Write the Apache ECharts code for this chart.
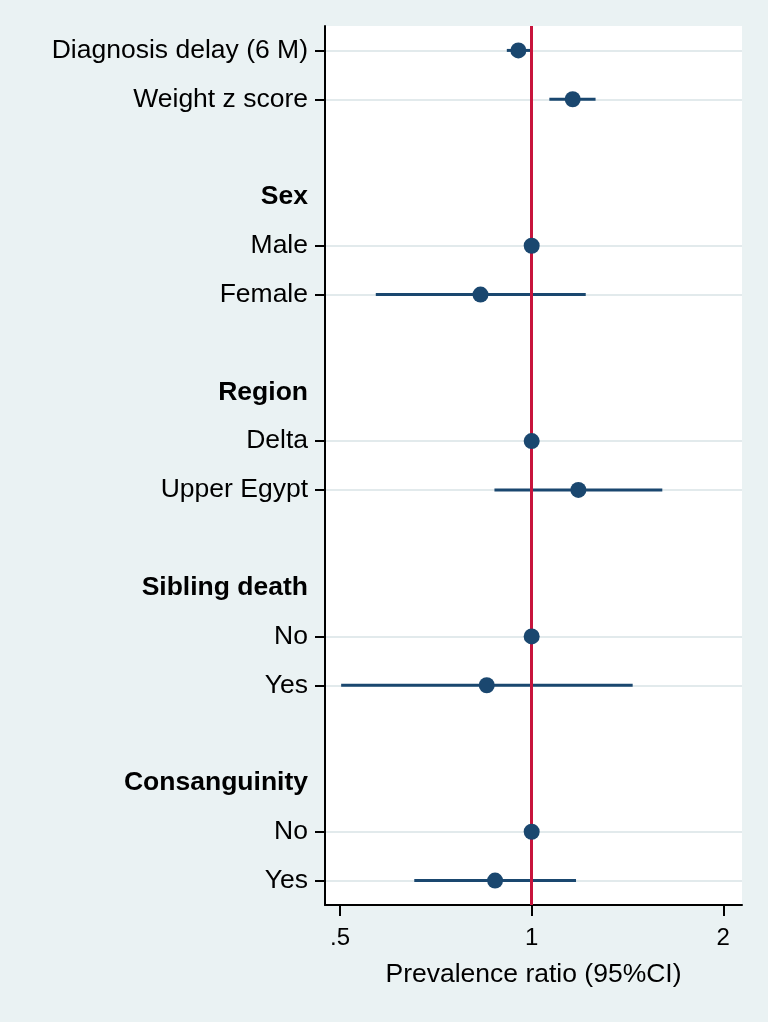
<!DOCTYPE html>
<html>
<head>
<meta charset="utf-8">
<script src="https://cdn.jsdelivr.net/npm/echarts@6/dist/echarts.min.js"></script>
<style>
html,body{margin:0;padding:0;background:#eaf2f3;}
#chart{width:768px;height:1022px;}
</style>
</head>
<body>
<div id="chart"></div>
<script>
// Row labels, top to bottom ('' = spacer row)
const rowLabels = ['Diagnosis delay (6 M)', 'Weight z score', '', 'Sex', 'Male', 'Female', '',
  'Region', 'Delta', 'Upper Egypt', '', 'Sibling death', 'No', 'Yes', '',
  'Consanguinity', 'No', 'Yes'];
const headerRows = [3, 7, 11, 15];
const dataRows = [0, 1, 4, 5, 8, 9, 12, 13, 16, 17];
// Prevalence ratios and 95% CI (null = reference category)
const estimate = [0.953, 1.160, 1.000, 0.831, 1.000, 1.184, 1.000, 0.850, 1.000, 0.876];
const lower    = [0.914, 1.066, null, 0.569, null, 0.874, null, 0.502, null, 0.654];
const upper    = [0.995, 1.260, null, 1.216, null, 1.604, null, 1.441, null, 1.174];
const xTickValues = [0.5, 1, 2];
const xTickLabels = ['.5', '1', '2'];
const xRange = [0.4735, 2.14];
const refValue = 1;

const log2 = Math.log2;
const FONT = '"Liberation Sans", Arial, Helvetica, sans-serif';
const NAVY = '#1a476f';

const pointData = dataRows.map((r, i) => [log2(estimate[i]), r]);
const ciData = [];
dataRows.forEach((r, i) => {
  if (lower[i] != null && upper[i] != null) ciData.push([log2(lower[i]), log2(upper[i]), r]);
});
const labelRows = rowLabels.map((l, i) => i).filter(i => rowLabels[i] !== '');

const chart = echarts.init(document.getElementById('chart'), null, {renderer: 'canvas'});
chart.setOption({
  backgroundColor: '#eaf2f3',
  animation: false,
  grid: {
    left: 325, right: 26, top: 26, bottom: 117,
    show: true, backgroundColor: '#ffffff', borderWidth: 0,
    outerBoundsMode: 'none', containLabel: false
  },
  xAxis: {
    type: 'value',
    min: log2(xRange[0]), max: log2(xRange[1]),
    axisLine: {show: true, onZero: false, lineStyle: {color: '#000', width: 2}},
    axisTick: {show: true, length: 11, customValues: xTickValues.map(log2), lineStyle: {color: '#000', width: 2}},
    axisLabel: {
      customValues: xTickValues.map(log2),
      formatter: v => {
        const idx = xTickValues.findIndex(t => Math.abs(log2(t) - v) < 1e-6);
        return idx >= 0 ? xTickLabels[idx] : '';
      },
      color: '#000', fontSize: 24, fontFamily: FONT, margin: 21
    },
    splitLine: {show: false},
    name: 'Prevalence ratio (95%CI)',
    nameLocation: 'middle', nameGap: 56,
    nameTextStyle: {color: '#000', fontSize: 26.5, fontFamily: FONT}
  },
  yAxis: {
    type: 'value', inverse: true, min: -0.5, max: 17.5,
    axisLine: {show: true, onZero: false, lineStyle: {color: '#000', width: 2}},
    axisTick: {show: true, length: 10, customValues: dataRows, lineStyle: {color: '#000', width: 2}},
    axisLabel: {
      customValues: labelRows,
      formatter: v => {
        const i = Math.round(v);
        const t = rowLabels[i] || '';
        return headerRows.includes(i) ? '{b|' + t + '}' : t;
      },
      color: '#000', fontSize: 26.5, fontFamily: FONT, margin: 17,
      rich: {b: {fontWeight: 'bold', fontSize: 26.5, fontFamily: FONT, color: '#000'}}
    },
    splitLine: {show: true, lineStyle: {color: '#e2eaec', width: 2}}
  },
  series: [
    {
      type: 'custom',
      data: ciData,
      encode: {x: [0, 1], y: 2},
      z: 2,
      renderItem: (params, api) => {
        const a = api.coord([api.value(0), api.value(2)]);
        const b = api.coord([api.value(1), api.value(2)]);
        return {type: 'line', shape: {x1: a[0], y1: a[1], x2: b[0], y2: b[1]},
          style: {stroke: NAVY, lineWidth: 3}};
      },
      markLine: {
        silent: true, symbol: 'none', label: {show: false},
        lineStyle: {color: '#c8143c', width: 3, type: 'solid'},
        data: [{xAxis: log2(refValue)}]
      }
    },
    {
      type: 'scatter',
      data: pointData,
      symbol: 'circle', symbolSize: 16,
      itemStyle: {color: NAVY, opacity: 1},
      z: 5
    }
  ]
});
</script>
</body>
</html>
